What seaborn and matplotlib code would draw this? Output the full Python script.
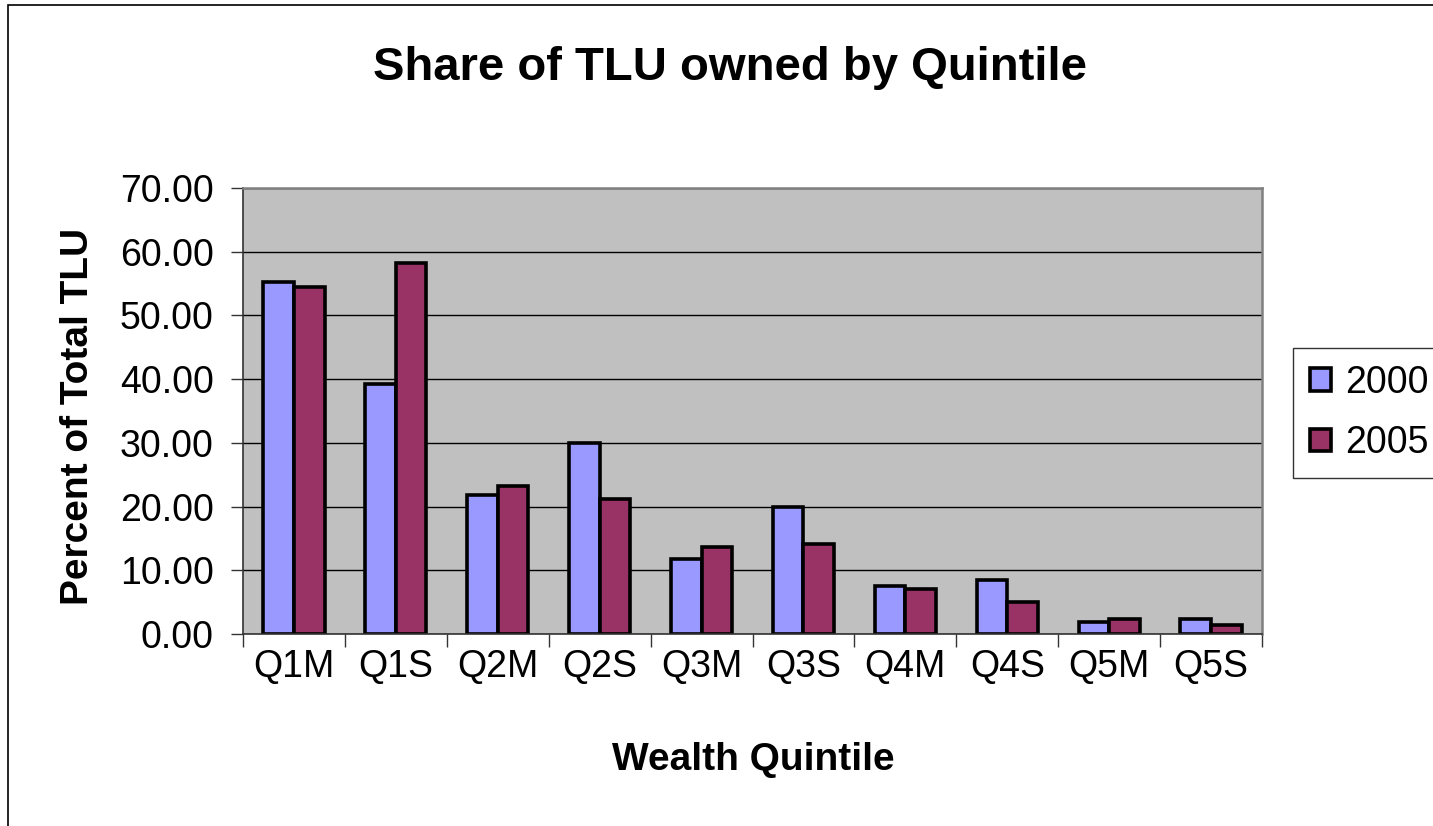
import matplotlib
matplotlib.use("agg")
import matplotlib.pyplot as plt
from matplotlib.patches import Rectangle
from matplotlib.ticker import FormatStrFormatter, FixedLocator
import seaborn as sns
import pandas as pd

# data
quintiles = ["Q1M", "Q1S", "Q2M", "Q2S", "Q3M", "Q3S", "Q4M", "Q4S", "Q5M", "Q5S"]
share_2000 = [55.3, 39.3, 21.8, 29.9, 11.8, 19.9, 7.6, 8.4, 1.9, 2.3]
share_2005 = [54.5, 58.2, 23.2, 21.2, 13.7, 14.2, 7.0, 5.1, 2.3, 1.4]
years = ["2000", "2005"]
colors = ["#9999FF", "#993366"]

df = pd.DataFrame({
    "Quintile": quintiles * 2,
    "Share": share_2000 + share_2005,
    "Year": [years[0]] * len(quintiles) + [years[1]] * len(quintiles),
})

plt.rcParams["font.family"] = ["Liberation Sans", "DejaVu Sans"]

W, H = 1433, 826
fig = plt.figure(figsize=(W / 100, H / 100), dpi=100)
ax = fig.add_axes([243 / W, 1 - 634 / H, (1262 - 243) / W, (634 - 188) / H])
ax.set_facecolor("#C0C0C0")

sns.barplot(data=df, x="Quintile", y="Share", hue="Year", palette=colors,
            width=0.6, edgecolor="black", linewidth=2.6, ax=ax, saturation=1)

ax.set_ylim(0, 70)
ax.set_xlim(-0.5, len(quintiles) - 0.5)
ax.set_yticks(range(0, 71, 10))
ax.yaxis.set_major_formatter(FormatStrFormatter("%.2f"))
ax.set_axisbelow(True)
ax.yaxis.grid(True, color="black", linewidth=1.0)

# category boundaries get the tick marks, labels sit in between
ax.xaxis.set_minor_locator(FixedLocator([i - 0.5 for i in range(len(quintiles) + 1)]))
ax.tick_params(axis="x", which="major", length=0, pad=11, labelsize=27)
ax.tick_params(axis="x", which="minor", length=9, width=1, color="#333333", direction="out")
ax.tick_params(axis="y", length=9, width=1, color="#333333", pad=12, labelsize=27)

for side in ["top", "right"]:
    ax.spines[side].set_color("#808080")
    ax.spines[side].set_linewidth(1.8)
for side in ["left", "bottom"]:
    ax.spines[side].set_color("#333333")
    ax.spines[side].set_linewidth(1.2)

ax.set_xlabel("Wealth Quintile", fontsize=28, fontweight="bold")
ax.xaxis.set_label_coords((753 - 243) / (1262 - 243), (634 - 760) / (634 - 188))
ax.xaxis.label.set_va("center")
ax.set_ylabel("Percent of Total TLU", fontsize=28, fontweight="bold")
ax.yaxis.set_label_coords((78 - 243) / (1262 - 243), (634 - 416) / (634 - 188))
ax.yaxis.label.set_va("center")

fig.text(730 / W, 1 - 68 / H, "Share of TLU owned by Quintile",
         fontsize=34, fontweight="bold", ha="center", va="center")

handles, labels = ax.get_legend_handles_labels()
ax.get_legend().remove()
leg = fig.legend(handles, labels, loc="upper left",
                 bbox_to_anchor=(1293 / W, 1 - 348 / H), fontsize=27,
                 frameon=True, fancybox=False, edgecolor="black",
                 handlelength=0.55, handleheight=0.55, handletextpad=0.4,
                 borderpad=0.45, labelspacing=0.65, borderaxespad=0)
leg.get_frame().set_linewidth(1.0)

# outer chart border (right and bottom fall outside the image)
fig.patches.append(Rectangle((8 / W, -0.05), 1.1, 1 - 5 / H + 0.05,
                             transform=fig.transFigure, fill=False,
                             edgecolor="black", linewidth=1.2))

fig.savefig("out.png", dpi=100)
